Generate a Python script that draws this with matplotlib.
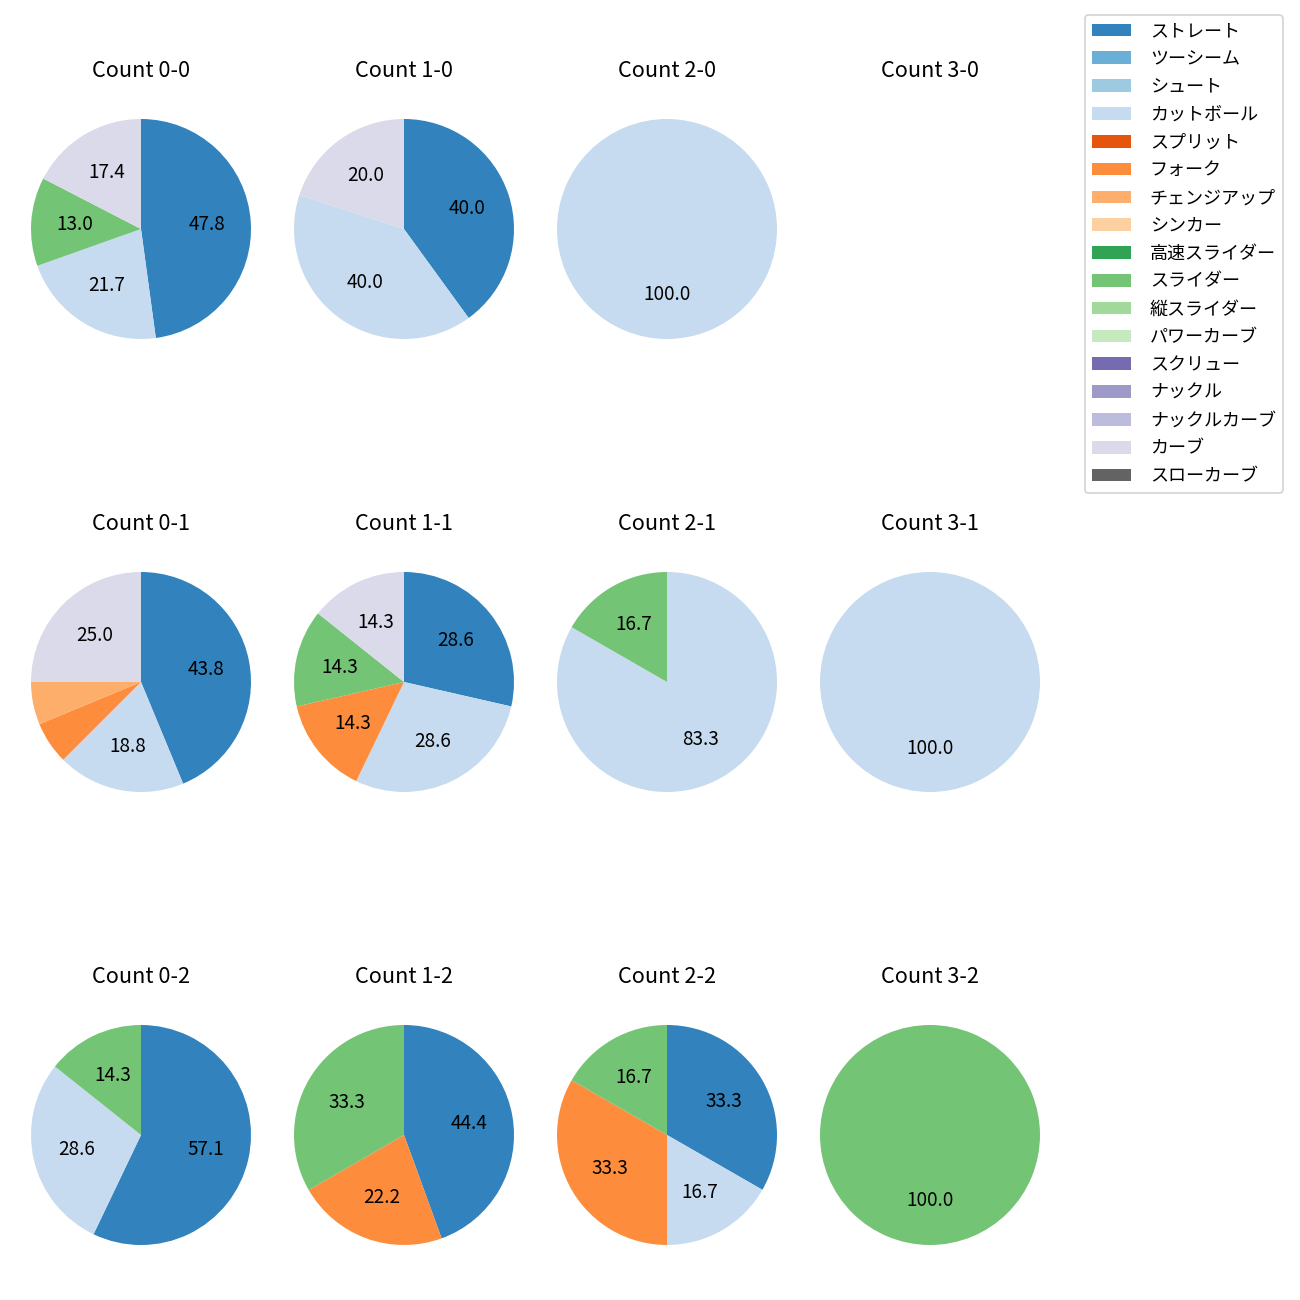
import matplotlib
matplotlib.use("Agg")
import matplotlib.pyplot as plt
from matplotlib.patches import Patch

plt.rcParams['font.family'] = ['Noto Sans CJK JP', 'DejaVu Sans']

pitch_types = ["ストレート", "ツーシーム", "シュート", "カットボール", "スプリット", "フォーク",
               "チェンジアップ", "シンカー", "高速スライダー", "スライダー", "縦スライダー",
               "パワーカーブ", "スクリュー", "ナックル", "ナックルカーブ", "カーブ", "スローカーブ"]

# share (%) per count situation, in pitch_types order, zeros omitted
counts = {
    "0-0": {"ストレート": 47.8, "カットボール": 21.7, "スライダー": 13.0, "カーブ": 17.4},
    "1-0": {"ストレート": 40.0, "カットボール": 40.0, "カーブ": 20.0},
    "2-0": {"カットボール": 100.0},
    "3-0": {},
    "0-1": {"ストレート": 43.75, "カットボール": 18.75, "フォーク": 6.25, "チェンジアップ": 6.25, "カーブ": 25.0},
    "1-1": {"ストレート": 28.6, "カットボール": 28.6, "フォーク": 14.3, "スライダー": 14.3, "カーブ": 14.3},
    "2-1": {"カットボール": 83.3, "スライダー": 16.7},
    "3-1": {"カットボール": 100.0},
    "0-2": {"ストレート": 57.1, "カットボール": 28.6, "スライダー": 14.3},
    "1-2": {"ストレート": 44.4, "フォーク": 22.2, "スライダー": 33.3},
    "2-2": {"ストレート": 33.3, "カットボール": 16.7, "フォーク": 33.3, "スライダー": 16.7},
    "3-2": {"スライダー": 100.0},
}
balls = [0, 1, 2, 3]
strikes = [0, 1, 2]

cmap = plt.get_cmap('tab20c')
colors = {p: cmap(i) for i, p in enumerate(pitch_types)}

W = H = 1300
fig = plt.figure(figsize=(10, 10), dpi=130)

col_c = [141, 404, 667, 930]
row_c = [229, 682, 1135]
box = 275

for r, s in enumerate(strikes):
    for c, b in enumerate(balls):
        key = f"{b}-{s}"
        cx, cy = col_c[c], row_c[r]
        ax = fig.add_axes([(cx - box / 2) / W, 1 - (cy + box / 2) / H, box / W, box / H])
        data = counts[key]
        if data:
            labels = list(data.keys())
            vals = list(data.values())
            ax.pie(vals, colors=[colors[l] for l in labels], startangle=90, counterclock=False,
                   autopct=lambda p: f"{p:.1f}" if p >= 10 else "", textprops={'fontsize': 10.5})
        else:
            ax.axis('off')
            ax.set_xlim(-1.25, 1.25)
            ax.set_ylim(-1.25, 1.25)
            ax.set_aspect('equal')
        ax.set_title(f"Count {key}", fontsize=12, pad=8.2)

handles = [Patch(facecolor=colors[p], label=p) for p in pitch_types]
fig.legend(handles=handles, loc='upper right', bbox_to_anchor=(1283 / W, 1 - 15 / H),
           borderaxespad=0, fontsize=10, labelspacing=0.544, handletextpad=1.05,
           handlelength=2.15)

fig.savefig("out.png", dpi=130)
